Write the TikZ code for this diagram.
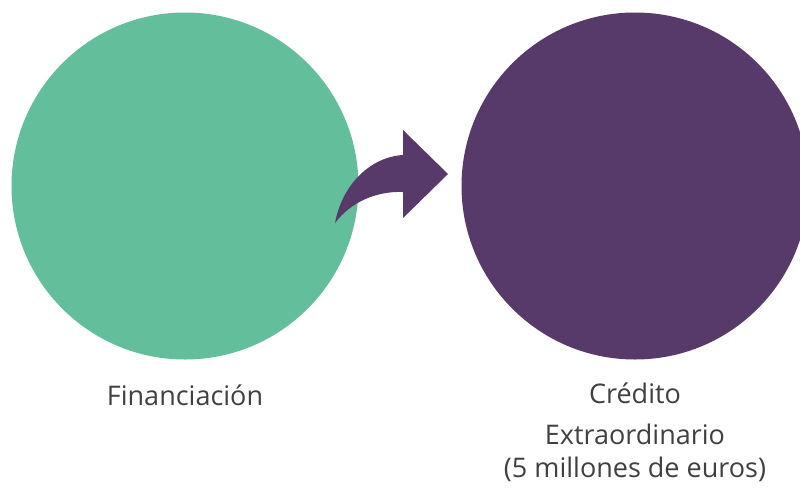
\documentclass[tikz,border=0pt]{standalone}
\usepackage{fontspec}
\setmainfont{Open Sans}
\usepackage{tikz}
\usetikzlibrary{positioning}

\definecolor{verde}{RGB}{98,190,155}
\definecolor{morado}{RGB}{87,58,106}
\definecolor{texto}{RGB}{64,64,64}

\begin{document}
\begin{tikzpicture}[x=1pt,y=-1pt,
	bola/.style={circle, minimum size=347pt, inner sep=0pt},
	etiqueta/.style={text=texto, font=\fontsize{27}{37}\selectfont, align=center, anchor=base}]
	\clip (0,0) rectangle (800,488);
	\node[bola, fill=verde] (F) at (185,186) {};
	\node[bola, fill=morado] (C) at (635,186) {};
	
	\node[etiqueta] (tF) at (185,405) {Financiación};
	\node[etiqueta] (tC) at (635,477) {Crédito\\[4pt]Extraordinario\\[-4pt](5 millones de euros)};
	
	\fill[morado] (335,223) .. controls (342,185) and (370,157) .. (403,155)
		-- (403,130) -- (448,174) -- (403,218) -- (403,192)
		.. controls (375,191) and (350,203) .. (335,223) -- cycle;
\end{tikzpicture}
\end{document}
